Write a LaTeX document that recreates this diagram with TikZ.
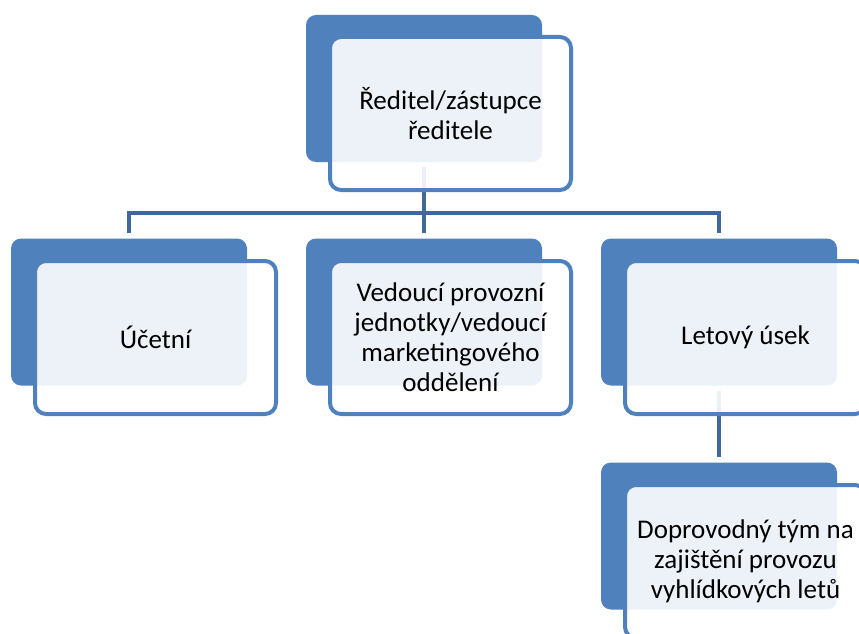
\documentclass[tikz,border=0pt]{standalone}
\usepackage{fontspec}
\setmainfont{Carlito}
\definecolor{backblue}{RGB}{79,129,189}
\definecolor{linkblue}{RGB}{65,104,154}
\tikzset{
  backbox/.style={rectangle, rounded corners=10pt, fill=backblue, draw=none,
    minimum width=236pt, minimum height=147pt, inner sep=0pt},
  frontbox/.style={rectangle, rounded corners=11pt, draw=backblue, line width=4pt,
    fill=white, fill opacity=0.9, text opacity=1,
    minimum width=241pt, minimum height=153pt, inner sep=0pt,
    font=\fontsize{27pt}{30pt}\selectfont, align=center, text=black},
  link/.style={draw=linkblue, line width=4.5pt, shorten <=5pt, shorten >=5pt}
}
\begin{document}
\begin{tikzpicture}[x=1pt,y=-1pt]
\useasboundingbox (0,0) rectangle (859,634);
\clip (0,0) rectangle (859,634);
% back boxes
\node[backbox] (b0) at (424,88.5) {};
\node[backbox] (b1) at (129,312) {};
\node[backbox] (b2) at (424,312) {};
\node[backbox] (b3) at (719,312) {};
\node[backbox] (b4) at (719,536) {};
% connectors
\coordinate (bus) at (424,213);
\draw[link, shorten >=0pt] (b0.south) -- (bus);
\draw[link] (b1.north) |- (bus) -| (b3.north);
\draw[link, shorten <=0pt] (bus) -- (b2.north);
\draw[link] (b3.south) -- (b4.north);
% front boxes
\node[frontbox] (f0) at (450.5,113.5) {Ředitel/zástupce\\ředitele};
\node[frontbox] (f1) at (155.5,337.5) {Účetní};
\node[frontbox] (f2) at (450.5,337.5) {Vedoucí provozní\\jednotky/vedoucí\\marketingového\\oddělení};
\node[frontbox] (f3) at (745.5,337.5) {Letový úsek};
\node[frontbox] (f4) at (745.5,561.5) {Doprovodný tým na\\zajištění provozu\\vyhlídkových letů};
\end{tikzpicture}
\end{document}
